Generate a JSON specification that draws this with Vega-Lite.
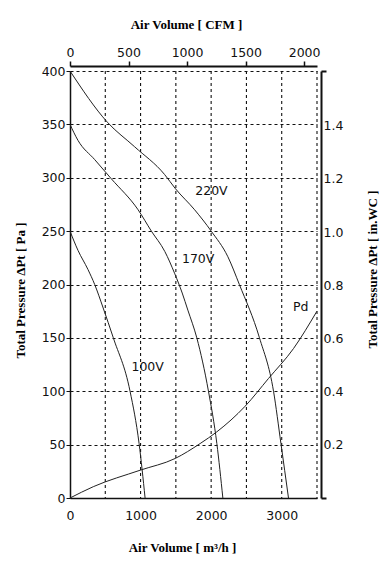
{
  "$schema": "https://vega.github.io/schema/vega-lite/v6.json",
  "width": 247,
  "height": 427,
  "autosize": "none",
  "padding": {"left": 70, "top": 71, "right": 69, "bottom": 65},
  "background": "white",
  "config": {
    "view": {"stroke": null},
    "axis": {
      "labelFont": "DejaVu Sans",
      "labelFontSize": 12.5,
      "labelColor": "#111",
      "labelFlush": false,
      "titleFont": "Liberation Serif",
      "titleFontSize": 13,
      "titleFontWeight": "bold",
      "titleColor": "#000",
      "domainColor": "#111",
      "tickColor": "#111",
      "gridColor": "#111",
      "gridDash": [3, 3],
      "gridWidth": 1.1,
      "gridOpacity": 1
    }
  },
  "datasets": {
    "curves": [
      {"series": "220V", "m3h": 0, "pa": 400},
      {"series": "220V", "m3h": 530, "pa": 352},
      {"series": "220V", "m3h": 916, "pa": 329},
      {"series": "220V", "m3h": 1341, "pa": 303},
      {"series": "220V", "m3h": 1491, "pa": 290},
      {"series": "220V", "m3h": 1766, "pa": 270},
      {"series": "220V", "m3h": 2001, "pa": 250},
      {"series": "220V", "m3h": 2237, "pa": 226},
      {"series": "220V", "m3h": 2400, "pa": 200},
      {"series": "220V", "m3h": 2685, "pa": 150},
      {"series": "220V", "m3h": 2884, "pa": 100},
      {"series": "220V", "m3h": 2989, "pa": 51},
      {"series": "220V", "m3h": 3096, "pa": 0},
      {"series": "170V", "m3h": 0, "pa": 350},
      {"series": "170V", "m3h": 113, "pa": 335},
      {"series": "170V", "m3h": 350, "pa": 317},
      {"series": "170V", "m3h": 586, "pa": 299},
      {"series": "170V", "m3h": 965, "pa": 270},
      {"series": "170V", "m3h": 1153, "pa": 250},
      {"series": "170V", "m3h": 1343, "pa": 231},
      {"series": "170V", "m3h": 1485, "pa": 210},
      {"series": "170V", "m3h": 1590, "pa": 192},
      {"series": "170V", "m3h": 1670, "pa": 176},
      {"series": "170V", "m3h": 1797, "pa": 150},
      {"series": "170V", "m3h": 1962, "pa": 100},
      {"series": "170V", "m3h": 2081, "pa": 51},
      {"series": "170V", "m3h": 2166, "pa": 0},
      {"series": "100V", "m3h": 0, "pa": 250},
      {"series": "100V", "m3h": 113, "pa": 232},
      {"series": "100V", "m3h": 255, "pa": 214},
      {"series": "100V", "m3h": 350, "pa": 200},
      {"series": "100V", "m3h": 470, "pa": 178},
      {"series": "100V", "m3h": 614, "pa": 150},
      {"series": "100V", "m3h": 851, "pa": 100},
      {"series": "100V", "m3h": 979, "pa": 51},
      {"series": "100V", "m3h": 1064, "pa": 0},
      {"series": "Pd", "m3h": 0, "pa": 0},
      {"series": "Pd", "m3h": 330, "pa": 10.6},
      {"series": "Pd", "m3h": 993, "pa": 26},
      {"series": "Pd", "m3h": 1489, "pa": 37},
      {"series": "Pd", "m3h": 1844, "pa": 51},
      {"series": "Pd", "m3h": 2081, "pa": 62},
      {"series": "Pd", "m3h": 2482, "pa": 86},
      {"series": "Pd", "m3h": 2813, "pa": 112},
      {"series": "Pd", "m3h": 3167, "pa": 140},
      {"series": "Pd", "m3h": 3499, "pa": 175}
    ],
    "labels": [
      {"text": "220V", "m3h": 2004, "pa": 288},
      {"text": "170V", "m3h": 1816, "pa": 224},
      {"text": "100V", "m3h": 1100, "pa": 123},
      {"text": "Pd", "m3h": 3270, "pa": 179}
    ],
    "vgrid": [
      {"m3h": 500}, {"m3h": 1000}, {"m3h": 1500}, {"m3h": 2000},
      {"m3h": 2500}, {"m3h": 3000}, {"m3h": 3500}
    ],
    "second": [
      {"cfm": 0, "inwc": 0}
    ]
  },
  "layer": [
    {
      "layer": [
        {
          "data": {"name": "vgrid"},
          "mark": {"type": "rule", "color": "#111", "strokeWidth": 1.1, "strokeDash": [3, 3]},
          "encoding": {
            "x": {"field": "m3h", "type": "quantitative"}
          }
        },
        {
          "data": {"name": "curves"},
          "mark": {"type": "line", "color": "#222", "strokeWidth": 1, "interpolate": "monotone"},
          "encoding": {
            "x": {
              "field": "m3h", "type": "quantitative",
              "scale": {"domain": [0, 3500], "nice": false},
              "axis": {
                "orient": "bottom",
                "title": "Air Volume  [ m³/h ]",
                "values": [0, 1000, 2000, 3000],
                "format": "d",
                "labelOverlap": false,
                "ticks": false,
                "labelPadding": 11,
                "domainWidth": 1.5,
                "grid": false,
                "titleX": 112,
                "titleY": 49,
                "titleBaseline": "middle"
              }
            },
            "y": {
              "field": "pa", "type": "quantitative",
              "scale": {"domain": [0, 400], "nice": false},
              "axis": {
                "orient": "left",
                "title": "Total Pressure ΔPt  [ Pa ]",
                "values": [0, 50, 100, 150, 200, 250, 300, 350, 400],
                "tickSize": 4,
                "labelPadding": 1,
                "domainWidth": 1.5,
                "grid": true,
                "titleX": -50,
                "titleY": 219,
                "titleBaseline": "middle",
                "titleAngle": 270
              }
            },
            "detail": {"field": "series", "type": "nominal"}
          }
        },
        {
          "data": {"name": "labels"},
          "mark": {"type": "text", "font": "DejaVu Sans", "fontSize": 12.5, "color": "#111"},
          "encoding": {
            "x": {"field": "m3h", "type": "quantitative"},
            "y": {"field": "pa", "type": "quantitative"},
            "text": {"field": "text", "type": "nominal"}
          }
        }
      ]
    },
    {
      "data": {"name": "second"},
      "mark": {"type": "point", "opacity": 0},
      "encoding": {
        "x": {
          "field": "cfm", "type": "quantitative",
          "scale": {"domain": [0, 2110], "nice": false},
          "axis": {
            "orient": "top",
            "title": "Air Volume  [ CFM ]",
            "values": [0, 500, 1000, 1500, 2000],
            "format": "d",
            "offset": 5,
            "tickSize": 5,
            "tickWidth": 1.5,
            "labelPadding": 2,
            "domainWidth": 2,
            "grid": false,
            "titleX": 116,
            "titleY": -42,
            "titleBaseline": "middle"
          }
        },
        "y": {
          "field": "inwc", "type": "quantitative",
          "scale": {"domain": [0, 1.606], "nice": false},
          "axis": {
            "orient": "right",
            "title": "Total Pressure ΔPt [ in.WC ]",
            "values": [0, 0.2, 0.4, 0.6, 0.8, 1.0, 1.2, 1.4, 1.606],
            "format": ".1f",
            "labelOpacity": {"condition": {"test": "datum.value > 0.1 && datum.value < 1.5", "value": 1}, "value": 0},
            "labelOverlap": false,
            "offset": 4,
            "tickSize": 5,
            "tickWidth": 2,
            "tickOpacity": {"condition": {"test": "datum.value < 0.1 || datum.value > 1.5", "value": 1}, "value": 0},
            "labelPadding": -3,
            "domainWidth": 2,
            "grid": false,
            "titleX": 51,
            "titleY": 198,
            "titleBaseline": "middle",
            "titleAngle": 270
          }
        }
      }
    }
  ],
  "resolve": {"scale": {"x": "independent", "y": "independent"}}
}
